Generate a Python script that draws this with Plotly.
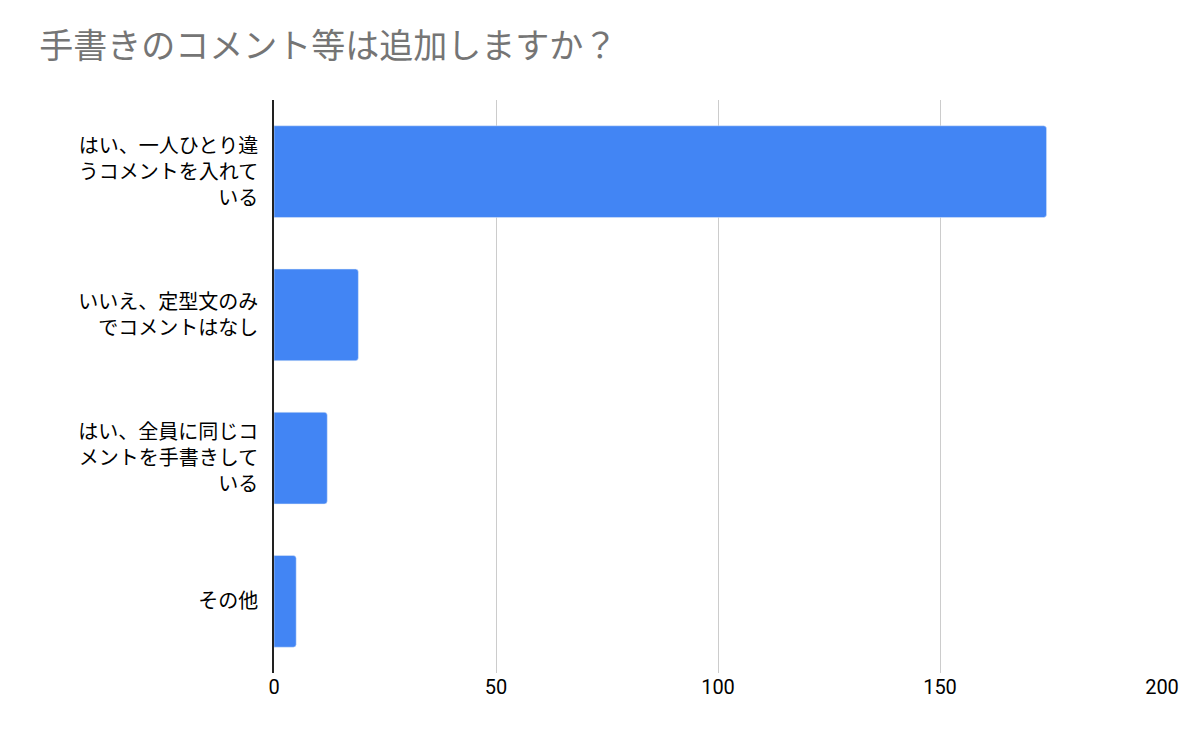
import plotly.graph_objects as go

categories = ["はい、一人ひとり違<br>うコメントを入れて<br>いる", "いいえ、定型文のみ<br>でコメントはなし", "はい、全員に同じコ<br>メントを手書きして<br>いる", "その他"]
values = [174, 19, 12, 5]
tick_vals = [0, 50, 100, 150, 200]

fig = go.Figure(go.Bar(x=values, y=categories, orientation="h", marker_color="#4285f4"))
fig.update_layout(
    width=1200, height=742, plot_bgcolor="white", paper_bgcolor="white",
    font=dict(family="Noto Sans CJK JP", size=20, color="#000"),
    title=dict(text="手書きのコメント等は追加しますか？", x=0.026, y=0.965, xanchor="left",
               font=dict(size=34, color="#757575")),
    margin=dict(l=266, r=46, t=92, b=77),
    bargap=0.36, barcornerradius=3, showlegend=False,
)
fig.update_xaxes(range=[0, 200], tickvals=tick_vals, showgrid=True, gridcolor="#cccccc",
                 zeroline=False, ticks="", tickfont=dict(family="Roboto", size=20))
fig.update_yaxes(autorange="reversed", showline=True, linecolor="#222", linewidth=1.5, ticks="", ticklabelstandoff=10)
fig.write_html("out.html")
